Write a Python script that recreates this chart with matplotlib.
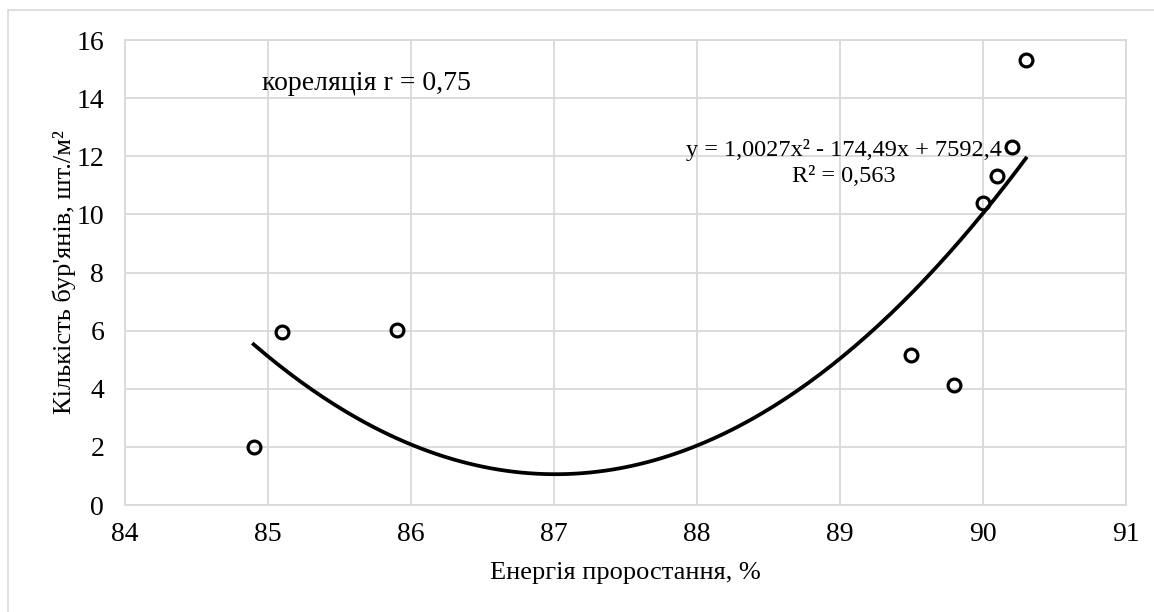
import matplotlib.pyplot as plt
import matplotlib.patches as patches
import numpy as np

plt.rcParams['font.family'] = ['Liberation Serif', 'DejaVu Serif']

# Energy of germination vs weed count
energy = [84.9, 85.1, 85.9, 89.5, 89.8, 90.0, 90.1, 90.2, 90.3]
weeds = [2.0, 5.95, 6.02, 5.16, 4.13, 10.38, 11.33, 12.33, 15.3]

x_ticks = [84, 85, 86, 87, 88, 89, 90, 91]
y_ticks = [0, 2, 4, 6, 8, 10, 12, 14, 16]

corr_text = "кореляція r = 0,75"
eq_text = "y = 1,0027x² - 174,49x + 7592,4"
r2_text = "R² = 0,563"

fig = plt.figure(figsize=(11.54, 6.12), dpi=100)

# light chart-area frame
fig.patches.append(patches.Rectangle((8 / 1154, -0.1), 1.1, 1.1 - 10 / 612,
                                     transform=fig.transFigure, fill=False,
                                     edgecolor="#d9d9d9", linewidth=1.2))

ax = fig.add_axes([0.1083, 0.1748, 0.8674, 0.7598])

# polynomial trendline (2nd order)
coef = np.polyfit(energy, weeds, 2)
xs = np.linspace(min(energy), max(energy), 200)
ax.plot(xs, np.polyval(coef, xs), color="black", linewidth=2.7, zorder=2)

ax.plot(energy, weeds, linestyle="none", marker="o", markersize=9.2,
        markerfacecolor="none", markeredgecolor="black",
        markeredgewidth=2.3, zorder=3)

ax.set_xlim(84, 91)
ax.set_ylim(0, 16)
ax.set_xticks(x_ticks)
ax.set_yticks(y_ticks)
ax.grid(True, color="#d9d9d9", linewidth=1.3)
ax.set_axisbelow(True)
for s in ax.spines.values():
    s.set_color("#d9d9d9")
    s.set_linewidth(1.3)
ax.tick_params(length=0, labelsize=20)
ax.tick_params(axis="y", pad=15)
ax.tick_params(axis="x", pad=12)

ax.set_xlabel("Енергія проростання, %", fontsize=19, labelpad=11)
ax.set_ylabel("Кількість бур'янів, шт./м²", fontsize=19, labelpad=0)

ax.text(84.96, 14.49, corr_text, fontsize=20, ha="left", va="center")
ax.text(89.03, 12.2, eq_text, fontsize=17.5, ha="center", va="center")
ax.text(89.03, 11.3, r2_text, fontsize=17.5, ha="center", va="center")

fig.savefig("out.png", dpi=100)
